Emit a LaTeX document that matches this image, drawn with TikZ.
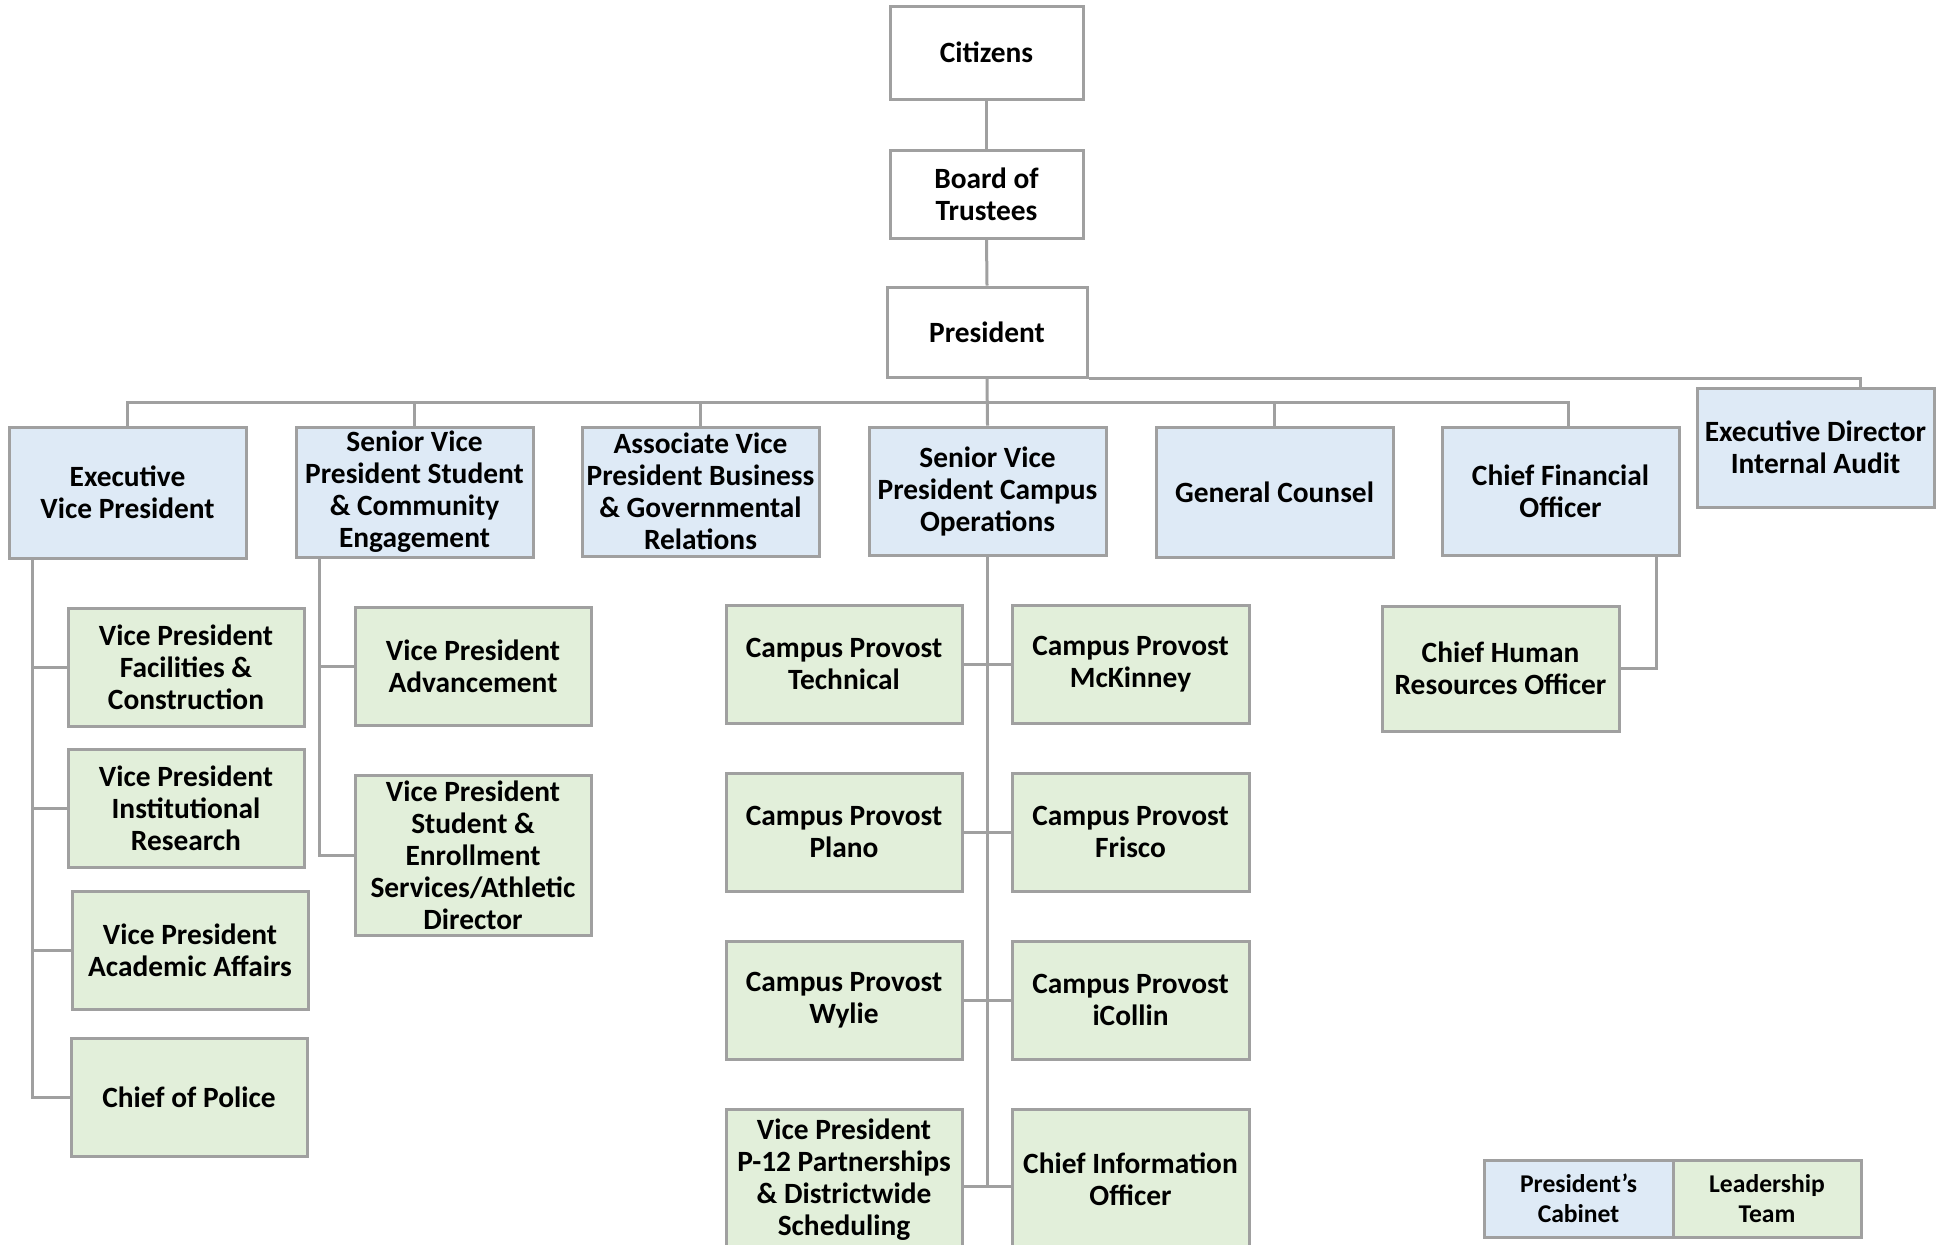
\documentclass[tikz,border=0pt]{standalone}
\usepackage{fontspec}
\setmainfont{Carlito}
\definecolor{cabblue}{HTML}{DEEAF6}
\definecolor{leadgreen}{HTML}{E2EFDA}
\definecolor{linegray}{HTML}{A0A0A0}
\tikzset{
  orgbox/.style={draw=linegray, line width=1.5pt, align=center, inner sep=0pt,
    font=\fontsize{14.7pt}{16pt}\selectfont\bfseries},
  legbox/.style={orgbox, font=\fontsize{12.8pt}{15pt}\selectfont\bfseries},
  conn/.style={draw=linegray, line width=1.5pt}
}
\newcommand{\orgbx}[8][orgbox]{%
  \pgfmathsetmacro\boxWd{(#5-#3)*0.5}%
  \pgfmathsetmacro\boxHt{(#6-#4)*0.5}%
  \node[#1, fill=#7, minimum width=\boxWd pt, minimum height=\boxHt pt] (#2) at ({(#3+#5)/2},{(#4+#6)/2}) {#8};}
\begin{document}
\begin{tikzpicture}[x=0.5pt,y=-0.5pt]
\useasboundingbox (0,0) rectangle (1947,1244);
\clip (0,0) rectangle (1947,1244);
% top chain
\orgbx{cit}{890}{6}{1083}{99}{white}{Citizens}
\orgbx{bot}{890}{150}{1083}{238}{white}{Board of\\Trustees}
\orgbx{pres}{887}{287}{1087}{377}{white}{President}
% level 2
\orgbx{evp}{9}{427}{246}{558}{cabblue}{Executive\\Vice President}
\orgbx{svps}{296}{427}{533}{557}{cabblue}{Senior Vice\\President Student\\\& Community\\Engagement}
\orgbx{avp}{582}{427}{819}{556}{cabblue}{Associate Vice\\President Business\\\& Governmental\\Relations}
\orgbx{svpc}{869}{427}{1106}{555}{cabblue}{Senior Vice\\President Campus\\Operations}
\orgbx{gc}{1156}{427}{1393}{557}{cabblue}{General Counsel}
\orgbx{cfo}{1442}{427}{1679}{555}{cabblue}{Chief Financial\\Officer}
\orgbx{eda}{1697}{388}{1934}{507}{cabblue}{Executive Director\\Internal Audit}
% left column
\orgbx{vpfc}{68}{608}{304}{726}{leadgreen}{Vice President\\Facilities \&\\Construction}
\orgbx{vpir}{68}{749}{304}{867}{leadgreen}{Vice President\\Institutional\\Research}
\orgbx{vpaa}{72}{891}{308}{1009}{leadgreen}{Vice President\\Academic Affairs}
\orgbx{cop}{71}{1038}{307}{1156}{leadgreen}{Chief of Police}
% second column
\orgbx{vpadv}{355}{607}{591}{725}{leadgreen}{Vice President\\Advancement}
\orgbx{vpse}{355}{775}{591}{935}{leadgreen}{Vice President\\Student \&\\Enrollment\\Services/Athletic\\Director}
% campus column
\orgbx{cpt}{726}{605}{962}{723}{leadgreen}{Campus Provost\\Technical}
\orgbx{cpm}{1012}{605}{1249}{723}{leadgreen}{Campus Provost\\McKinney}
\orgbx{cpp}{726}{773}{962}{891}{leadgreen}{Campus Provost\\Plano}
\orgbx{cpf}{1012}{773}{1249}{891}{leadgreen}{Campus Provost\\Frisco}
\orgbx{cpw}{726}{941}{962}{1059}{leadgreen}{Campus Provost\\Wylie}
\orgbx{cpi}{1012}{941}{1249}{1059}{leadgreen}{Campus Provost\\iCollin}
\orgbx{p12}{726}{1109}{962}{1250}{leadgreen}{Vice President\\P-12 Partnerships\\\& Districtwide\\Scheduling}
\orgbx{cio}{1012}{1109}{1249}{1250}{leadgreen}{Chief Information\\Officer}
% CFO child
\orgbx{chro}{1382}{606}{1619}{731}{leadgreen}{Chief Human\\Resources Officer}
% legend
\orgbx[legbox]{legc}{1484}{1160}{1673}{1237}{cabblue}{President’s\\Cabinet}
\orgbx[legbox]{legl}{1673}{1160}{1861}{1237}{leadgreen}{Leadership\\Team}
% connectors
\draw[conn] (cit.south) -- (bot.north);
\draw[conn] (bot.south) -- (pres.north);
\coordinate (bus) at (987,402);
\draw[conn] (pres.south) -- (svpc.north);
\foreach \n in {evp,svps,avp,gc} \draw[conn] (\n.north) |- (bus);
\coordinate (cfotop) at (1568,427);
\draw[conn] (cfotop) |- (bus);
\coordinate (edtop) at (1860,388);
\draw[conn] (pres.south east) -| (edtop);
% exec vp children
\coordinate (evpd) at (32,558);
\foreach \n in {vpfc,vpir,vpaa,cop} \draw[conn] (evpd) |- (\n.west);
% svp student children
\coordinate (svpsd) at (319,557);
\foreach \n in {vpadv,vpse} \draw[conn] (svpsd) |- (\n.west);
% campus children
\draw[conn] (cpt.east) -- (cpm.west);
\draw[conn] (cpp.east) -- (cpf.west);
\draw[conn] (cpw.east) -- (cpi.west);
\coordinate (p12c) at ([yshift=-3.5pt]p12.east);
\coordinate (cioc) at ([yshift=-3.5pt]cio.west);
\draw[conn] (p12c) -- (cioc);
\draw[conn] (svpc.south) |- (p12c);
% cfo child
\coordinate (cfod) at (1656,555);
\draw[conn] (cfod) |- (chro.east);
\end{tikzpicture}
\end{document}
